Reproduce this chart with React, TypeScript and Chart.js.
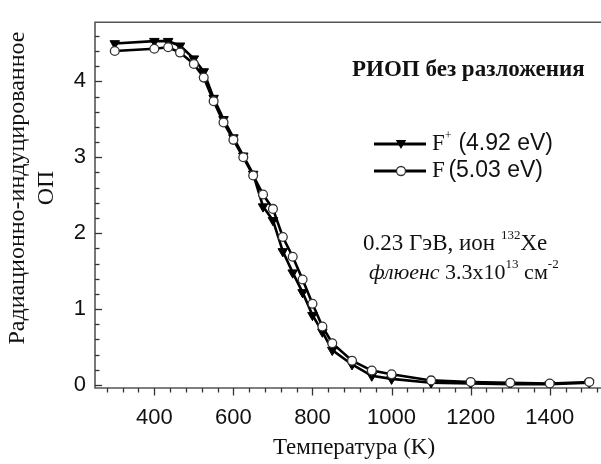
import React, { useEffect, useRef } from "react";
import { Chart, registerables } from "chart.js";

Chart.register(...registerables);

// ---- data ----
const temperatures = [300, 400, 435, 465, 500, 525, 550, 575, 600, 625, 650, 675, 700, 725, 750, 775, 800, 825, 850, 900, 950, 1000, 1100, 1200, 1300, 1400, 1500];
const fPlusValues = [4.50, 4.53, 4.53, 4.47, 4.30, 4.13, 3.78, 3.50, 3.26, 3.02, 2.78, 2.35, 2.17, 1.76, 1.48, 1.22, 0.92, 0.70, 0.46, 0.27, 0.12, 0.08, 0.03, 0.02, 0.01, 0.01, 0.03];
const fValues = [4.40, 4.43, 4.45, 4.38, 4.23, 4.05, 3.74, 3.46, 3.23, 3.00, 2.76, 2.51, 2.32, 1.95, 1.69, 1.39, 1.07, 0.77, 0.55, 0.32, 0.19, 0.14, 0.06, 0.04, 0.03, 0.02, 0.04];
const xTickValues = [400, 600, 800, 1000, 1200, 1400];
const yTickValues = [0, 1, 2, 3, 4];
const xMinorStep = 40;
const yMinorStep = 0.2;

const xTitle = "Температура (K)";
const yTitleLines = ["Радиационно-индуцированное", "ОП"];
const noteTitle = "РИОП без разложения";
const legendFPlus = ["F", "+", " (4.92 eV)"];
const legendF = ["F", " (5.03 eV)"];

const SERIF = "'Liberation Serif', 'Times New Roman', serif";
const SANS = "'Liberation Sans', Arial, sans-serif";

function drawTriangle(ctx: CanvasRenderingContext2D, x: number, y: number, r: number) {
  ctx.beginPath();
  ctx.moveTo(x, y + r);
  ctx.lineTo(x - r * 0.866, y - r * 0.5);
  ctx.lineTo(x + r * 0.866, y - r * 0.5);
  ctx.closePath();
  ctx.fillStyle = "#000";
  ctx.fill();
}

function drawCircle(ctx: CanvasRenderingContext2D, x: number, y: number, r: number) {
  ctx.beginPath();
  ctx.arc(x, y, r, 0, Math.PI * 2);
  ctx.fillStyle = "#fff";
  ctx.fill();
  ctx.lineWidth = 1.3;
  ctx.strokeStyle = "#333";
  ctx.stroke();
}

const frame = {
  id: "frame",
  beforeDatasetsDraw(chart: any) {
    const { ctx, chartArea: a, scales } = chart;
    const x = scales.x;
    const y = scales.y;
    ctx.save();
    ctx.strokeStyle = "#555";
    ctx.lineWidth = 1.6;
    ctx.beginPath();
    ctx.moveTo(a.left, a.top);
    ctx.lineTo(a.right, a.top);
    ctx.lineTo(a.right, a.bottom);
    ctx.lineTo(a.left, a.bottom);
    ctx.closePath();
    ctx.stroke();

    ctx.lineWidth = 1.3;
    ctx.strokeStyle = "#333";
    // y ticks (inward)
    for (let i = 0; ; i++) {
      const v = i * yMinorStep;
      if (v > y.max) break;
      const py = Math.round(y.getPixelForValue(v)) + 0.5;
      const major = Math.abs(v - Math.round(v)) < 1e-6;
      ctx.beginPath();
      ctx.moveTo(a.left, py);
      ctx.lineTo(a.left + (major ? 7 : 4.5), py);
      ctx.stroke();
    }
    // x ticks (outward)
    for (let v = Math.ceil(x.min / xMinorStep) * xMinorStep; v <= x.max; v += xMinorStep) {
      const px = Math.round(x.getPixelForValue(v)) + 0.5;
      const major = v % 200 === 0;
      ctx.beginPath();
      ctx.moveTo(px, a.bottom);
      ctx.lineTo(px, a.bottom + (major ? 7.5 : 4.5));
      ctx.stroke();
    }
    ctx.restore();
  },
  afterDraw(chart: any) {
    const { ctx, chartArea: a } = chart;
    ctx.save();
    ctx.fillStyle = "#111";
    ctx.textBaseline = "middle";

    // y title
    ctx.save();
    ctx.translate(18, 188);
    ctx.rotate(-Math.PI / 2);
    ctx.textAlign = "center";
    ctx.font = `24px ${SERIF}`;
    ctx.fillText(yTitleLines[0], 0, 0);
    ctx.fillText(yTitleLines[1], 0, 29);
    ctx.restore();

    // x title
    ctx.textAlign = "center";
    ctx.font = `23px ${SERIF}`;
    ctx.fillText(xTitle, (a.left + a.right) / 2, 448);

    // note title
    ctx.textAlign = "left";
    ctx.font = `bold 23px ${SERIF}`;
    ctx.fillText(noteTitle, 352, 70);

    // legend
    const lx0 = 374, lx1 = 426, lm = 401;
    ctx.strokeStyle = "#000";
    ctx.lineWidth = 2.8;
    ctx.beginPath(); ctx.moveTo(lx0, 144); ctx.lineTo(lx1, 144); ctx.stroke();
    drawTriangle(ctx, lm, 143, 6);
    ctx.beginPath(); ctx.moveTo(lx0, 171); ctx.lineTo(lx1, 171); ctx.stroke();
    drawCircle(ctx, lm, 171, 4.5);

    ctx.fillStyle = "#111";
    ctx.font = `23px ${SERIF}`;
    ctx.fillText(legendFPlus[0], 432, 144);
    let w = ctx.measureText(legendFPlus[0]).width;
    ctx.font = `12px ${SERIF}`;
    ctx.fillText(legendFPlus[1], 432 + w, 136);
    ctx.font = `23px ${SANS}`;
    ctx.fillText(legendFPlus[2], 452, 144);

    ctx.font = `23px ${SERIF}`;
    ctx.fillText(legendF[0], 432, 171);
    ctx.font = `23px ${SANS}`;
    ctx.fillText(legendF[1], 442, 171);

    // note lines
    let cx = 363;
    const l1 = 244;
    ctx.font = `23px ${SERIF}`;
    ctx.fillText("0.23 ГэВ, ион ", cx, l1);
    cx += ctx.measureText("0.23 ГэВ, ион ").width;
    ctx.font = `13px ${SERIF}`;
    ctx.fillText("132", cx, l1 - 8);
    cx += ctx.measureText("132").width;
    ctx.font = `23px ${SERIF}`;
    ctx.fillText("Xe", cx, l1);

    cx = 369;
    const l2 = 273;
    ctx.font = `italic 22px ${SERIF}`;
    ctx.fillText("флюенс", cx, l2);
    cx += ctx.measureText("флюенс").width;
    ctx.font = `22px ${SERIF}`;
    ctx.fillText(" 3.3x10", cx, l2);
    cx += ctx.measureText(" 3.3x10").width;
    ctx.font = `13px ${SERIF}`;
    ctx.fillText("13", cx, l2 - 8);
    cx += ctx.measureText("13").width;
    ctx.font = `22px ${SERIF}`;
    ctx.fillText(" см", cx, l2);
    cx += ctx.measureText(" см").width;
    ctx.font = `13px ${SERIF}`;
    ctx.fillText("-2", cx, l2 - 8);

    ctx.restore();
  },
};

export default function App() {
  const ref = useRef<HTMLCanvasElement | null>(null);
  useEffect(() => {
    document.body.style.margin = "0";
    const canvas = ref.current;
    if (!canvas) return;
    const chart = new Chart(canvas, {
      type: "line",
      data: {
        datasets: [
          {
            label: "F+ (4.92 eV)",
            data: temperatures.map((t, i) => ({ x: t, y: fPlusValues[i] })),
            borderColor: "#000",
            borderWidth: 2.6,
            pointStyle: "triangle",
            rotation: 180,
            pointRadius: 5.5,
            pointBackgroundColor: "#000",
            pointBorderColor: "#000",
            pointBorderWidth: 1,
            order: 2,
          },
          {
            label: "F (5.03 eV)",
            data: temperatures.map((t, i) => ({ x: t, y: fValues[i] })),
            borderColor: "#000",
            borderWidth: 2.6,
            pointStyle: "circle",
            pointRadius: 4.4,
            pointBackgroundColor: "#fff",
            pointBorderColor: "#333",
            pointBorderWidth: 1.3,
            order: 1,
          },
        ],
      },
      options: {
        responsive: false,
        animation: false,
        devicePixelRatio: 1,
        layout: { padding: { top: 13.5, right: 12, left: 0, bottom: 0 } },
        plugins: { legend: { display: false }, tooltip: { enabled: false }, title: { display: false } },
        scales: {
          x: {
            type: "linear",
            min: 250,
            max: 1560,
            grid: { display: false, drawTicks: false },
            border: { display: false },
            afterBuildTicks: (s: any) => { s.ticks = xTickValues.map((v) => ({ value: v })); },
            afterFit: (s: any) => { s.height = 76; },
            ticks: { color: "#111", font: { family: SANS, size: 22 }, padding: 17, maxRotation: 0, autoSkip: false, callback: (v: any) => String(v) },
          },
          y: {
            type: "linear",
            min: -0.04,
            max: 4.78,
            grid: { display: false, drawTicks: false },
            border: { display: false },
            afterBuildTicks: (s: any) => { s.ticks = yTickValues.map((v) => ({ value: v })); },
            afterFit: (s: any) => { s.width = 95; },
            ticks: { color: "#111", font: { family: SANS, size: 22 }, padding: 9, callback: (v: any) => String(v) },
          },
        },
      },
      plugins: [frame],
    });
    return () => chart.destroy();
  }, []);
  return (
    <div style={{ position: "absolute", left: 0, top: 0, width: 601, height: 464, overflow: "hidden", background: "#fff" }}>
      <canvas ref={ref} width={625} height={464} style={{ display: "block", width: 625, height: 464 }} />
    </div>
  );
}
